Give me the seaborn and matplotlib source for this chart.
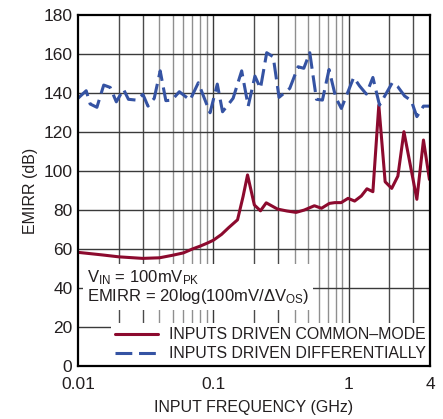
import numpy as np
import pandas as pd
import matplotlib
matplotlib.use("Agg")
import matplotlib.pyplot as plt
import seaborn as sns
from matplotlib.ticker import FixedLocator, NullFormatter, NullLocator

# ---- data ----
cm_freq = [0.01, 0.015, 0.02, 0.03, 0.04, 0.05, 0.06, 0.07, 0.08, 0.09, 0.1,
           0.115, 0.13, 0.151, 0.166, 0.179, 0.201, 0.223, 0.246, 0.298, 0.35,
           0.409, 0.47, 0.558, 0.63, 0.72, 0.79, 0.88, 0.99, 1.107, 1.24,
           1.365, 1.51, 1.67, 1.86, 2.08, 2.31, 2.56, 3.19, 3.57, 3.95]
cm_emirr = [58.3, 57.0, 56.0, 55.2, 55.5, 56.8, 58.0, 60.0, 61.5, 63.0, 64.5,
            67.5, 71.0, 75.0, 87.0, 98.0, 82.6, 79.6, 83.7, 80.5, 79.5,
            78.8, 80.0, 82.2, 80.9, 83.4, 83.8, 83.8, 86.0, 84.6, 87.2,
            90.9, 89.4, 133.8, 94.5, 91.1, 97.4, 120.2, 85.5, 115.9, 95.7]

dm_freq = [0.01, 0.0115, 0.0123, 0.0138, 0.0155, 0.0173, 0.0192, 0.0217, 0.0236,
           0.0269, 0.0302, 0.0329, 0.0366, 0.0405, 0.0446, 0.0494, 0.0561, 0.0673,
           0.0775, 0.0853, 0.0946, 0.107, 0.117, 0.140, 0.162, 0.181, 0.203,
           0.223, 0.248, 0.277, 0.306, 0.367, 0.423, 0.466, 0.516, 0.578, 0.640,
           0.716, 0.802, 0.883, 1.089, 1.205, 1.35, 1.51, 1.69, 2.10, 2.31,
           2.59, 2.90, 3.19, 3.57, 3.95]
dm_emirr = [137.3, 141.2, 134.4, 132.7, 144.1, 142.9, 135.5, 141.9, 136.8,
            136.4, 139.3, 133.3, 137.3, 151.4, 136.1, 136.4, 140.7, 136.4,
            145.3, 137.8, 129.9, 144.6, 130.4, 137.3, 151.4, 133.3, 148.7,
            142.4, 160.7, 158.6, 137.8, 142.4, 153.5, 152.7, 160.7, 136.8, 136.4,
            152.1, 137.8, 132.1, 148.0, 143.6, 139.5, 148.0, 133.8, 145.3, 143.2,
            138.5, 136.1, 127.9, 133.3, 133.3]

x_ticks = [0.01, 0.1, 1, 4]
x_ticklabels = ["0.01", "0.1", "1", "4"]
y_ticks = list(range(0, 181, 20))

series_cm = "INPUTS DRIVEN COMMON–MODE"
series_dm = "INPUTS DRIVEN DIFFERENTIALLY"

df = pd.concat([
    pd.DataFrame({"freq": cm_freq, "emirr": cm_emirr, "series": series_cm}),
    pd.DataFrame({"freq": dm_freq, "emirr": dm_emirr, "series": series_dm}),
])

# ---- style ----
sns.set_theme(style="white")
FONT = ["Liberation Sans", "DejaVu Sans"]
plt.rcParams["font.family"] = FONT
plt.rcParams["mathtext.fontset"] = "custom"
plt.rcParams["mathtext.rm"] = "Liberation Sans"
plt.rcParams["mathtext.it"] = "Liberation Sans"

RED = "#8c0a2e"
BLUE = "#3553a3"
TXT = "#231f20"

fig = plt.figure(figsize=(4.43, 4.19), dpi=100)
ax = fig.add_axes([0.176, 0.1265, 0.795, 0.8375])

ax.set_xscale("log")
ax.set_xlim(0.01, 4)
ax.set_ylim(0, 180)

# grid lines
dark_minor = [0.02, 0.03, 0.2, 0.3, 2, 3]
light_minor = [m * 10.0 ** k for k in (-2, -1, 0) for m in range(4, 10) if m * 10.0 ** k < 4]
for xv in [0.1, 1]:
    ax.axvline(xv, color="#3a3a3a", lw=1.0, zorder=0.5)
for xv in dark_minor:
    ax.axvline(xv, color="#4a4a4a", lw=1.0, zorder=0.5)
for xv in light_minor:
    ax.axvline(xv, color="#8f8f8f", lw=1.0, zorder=0.5)
for yv in y_ticks[1:-1]:
    ax.axhline(yv, color="#3a3a3a", lw=1.0, zorder=0.5)

sns.lineplot(data=df, x="freq", y="emirr", hue="series", style="series",
             palette={series_cm: RED, series_dm: BLUE},
             dashes={series_cm: "", series_dm: (5.5, 2.2)},
             linewidth=2.2, ax=ax, zorder=6, legend=True)

ax.xaxis.set_major_locator(FixedLocator(x_ticks))
ax.set_xticklabels(x_ticklabels)
ax.xaxis.set_minor_locator(NullLocator())
ax.xaxis.set_minor_formatter(NullFormatter())
ax.set_yticks(y_ticks)
ax.tick_params(axis="both", which="both", length=0, labelsize=12.5,
               colors=TXT)
ax.tick_params(axis="x", pad=8)
ax.tick_params(axis="y", pad=4)

for s in ax.spines.values():
    s.set_color("black")
    s.set_linewidth(1.6)
    s.set_zorder(7)

ax.set_xlabel("INPUT FREQUENCY (GHz)", fontsize=11.5, color=TXT, labelpad=6)
ax.set_ylabel("EMIRR (dB)", fontsize=11.5, color=TXT, labelpad=4)

# annotation box
ax.text(0.025, 0.279,
        "V$_{\\mathregular{IN}}$ = 100mV$_{\\mathregular{PK}}$\n"
        "EMIRR = 20log(100mV/ΔV$_{\\mathregular{OS}}$)",
        transform=ax.transAxes, fontsize=12, color=TXT, va="top", ha="left",
        linespacing=1.0, zorder=4,
        bbox=dict(boxstyle="square,pad=0.25", facecolor="white", edgecolor="none"))

leg = ax.legend(loc="lower right", bbox_to_anchor=(1.0, 0.0), frameon=True,
                facecolor="white", edgecolor="none", framealpha=1.0,
                fontsize=11.4, handlelength=2.7, handletextpad=0.65,
                labelspacing=0.25, borderpad=0.3, borderaxespad=0.0,
                fancybox=False)
leg.set_zorder(5)
for t in leg.get_texts():
    t.set_color(TXT)
for h in leg.get_lines():
    h.set_linewidth(2.2)

fig.savefig("out.png", dpi=100)
